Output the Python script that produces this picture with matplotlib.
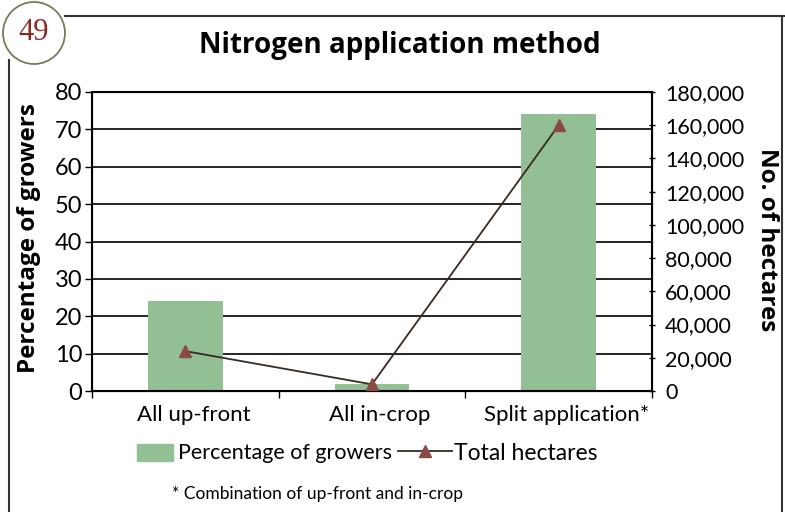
import matplotlib
matplotlib.use("Agg")
import matplotlib.pyplot as plt
from matplotlib.patches import Circle, Rectangle
from matplotlib.lines import Line2D
from matplotlib.ticker import FuncFormatter
from matplotlib.transforms import ScaledTranslation

plt.rcParams['font.family'] = ['Lato', 'DejaVu Sans']
heading_font = ['Open Sans', 'DejaVu Sans']

categories = ["All up-front", "All in-crop", "Split application*"]
pct_growers = [24, 2, 74]
total_hectares = [24000, 4000, 160000]

bar_color = "#93bf94"
line_color = "#3a2a22"
marker_color = "#8a4a44"

fig = plt.figure(figsize=(7.85, 5.12), dpi=100)
W, H = 785, 512

ax = fig.add_axes([92 / W, 1 - 391 / H, (652 - 92) / W, (391 - 92) / H])
x = list(range(len(categories)))
ax.bar(x, pct_growers, width=0.4, color=bar_color, zorder=2)
ax.set_xlim(-0.5, 2.5)
ax.set_ylim(0, 80)
ax.set_yticks(range(0, 81, 10))
ax.yaxis.grid(True, color="black", linewidth=1.2, zorder=0)
ax.set_axisbelow(True)
ax.set_xticks([-0.5, 0.5, 1.5, 2.5])
ax.set_xticklabels([])
ax.set_xticks(x, minor=True)
ax.set_xticklabels(categories, minor=True, fontsize=16)
ax.tick_params(axis='x', which='minor', length=0, pad=10)
ax.tick_params(axis='x', which='major', length=5, direction='out', width=1)
ax.tick_params(axis='y', labelsize=17, length=5, width=1, direction='out', pad=2)
shift = ScaledTranslation(8 / 100, 0, fig.dpi_scale_trans)
for lbl in ax.xaxis.get_minorticklabels():
    lbl.set_transform(lbl.get_transform() + shift)
for side in ['left', 'bottom', 'right', 'top']:
    ax.spines[side].set_linewidth(1.5)

ax2 = ax.twinx()
ax2.plot(x, total_hectares, color=line_color, linewidth=1.3, marker='^',
         markersize=9, markerfacecolor=marker_color, markeredgecolor=marker_color,
         zorder=3)
ax2.set_ylim(0, 180000)
ax2.set_yticks(range(0, 180001, 20000))
ax2.yaxis.set_major_formatter(FuncFormatter(lambda v, p: f"{int(v):,}"))
ax2.tick_params(axis='y', labelsize=15.5, length=5, width=1, direction='inout', pad=7)

# Axis titles
fig.text(29 / W, 1 - 238 / H, "Percentage of growers", fontsize=17.5,
         fontweight='bold', family=heading_font, rotation=90,
         ha='center', va='center', rotation_mode='anchor')
fig.text(767 / W, 1 - 240 / H, "No. of hectares", fontsize=17.5,
         fontweight='bold', family=heading_font, rotation=270,
         ha='center', va='center', rotation_mode='anchor')

fig.text(400 / W, 1 - 45 / H, "Nitrogen application method", fontsize=20,
         fontweight='bold', family=heading_font, ha='center', va='center')

# Legend drawn as figure artists
fig.patches.append(Rectangle((137 / W, 1 - 461 / H), 36 / W, 17 / H,
                             transform=fig.transFigure, color=bar_color))
fig.text(178 / W, 1 - 453 / H, "Percentage of growers", fontsize=15.5,
         va='center', ha='left')
fig.lines.append(Line2D([398 / W, 452 / W], [1 - 451 / H, 1 - 451 / H],
                        transform=fig.transFigure, color=line_color, lw=1.3))
fig.lines.append(Line2D([425 / W], [1 - 451 / H], transform=fig.transFigure,
                        marker='^', markersize=8, color=marker_color, lw=0))
fig.text(454 / W, 1 - 453 / H, "Total hectares", fontsize=16.5, va='center',
         ha='left')
fig.text(172 / W, 1 - 494 / H, "* Combination of up-front and in-crop",
         fontsize=12.5, va='center', ha='left')

# Page frame and numbered badge
fig.lines.append(Line2D([65 / W, 1.0], [1 - 16 / H, 1 - 16 / H],
                        transform=fig.transFigure, color="#333333", lw=1.5))
fig.lines.append(Line2D([9 / W, 9 / W], [1 - 60 / H, 0], transform=fig.transFigure,
                        color="#333333", lw=1.5))
fig.lines.append(Line2D([782 / W, 782 / W], [1 - 16 / H, 0], transform=fig.transFigure,
                        color="#333333", lw=1.5))
badge = Circle((34, H - 33), 31, transform=None, facecolor="white",
               edgecolor="#7a7a5a", lw=1.3)
fig.patches.append(badge)
fig.text(34 / W, 1 - 33 / H, "49", fontsize=22, color="#8b2a25",
         family=['Liberation Serif'], ha='center', va='center')

fig.savefig("out.png", dpi=100)
